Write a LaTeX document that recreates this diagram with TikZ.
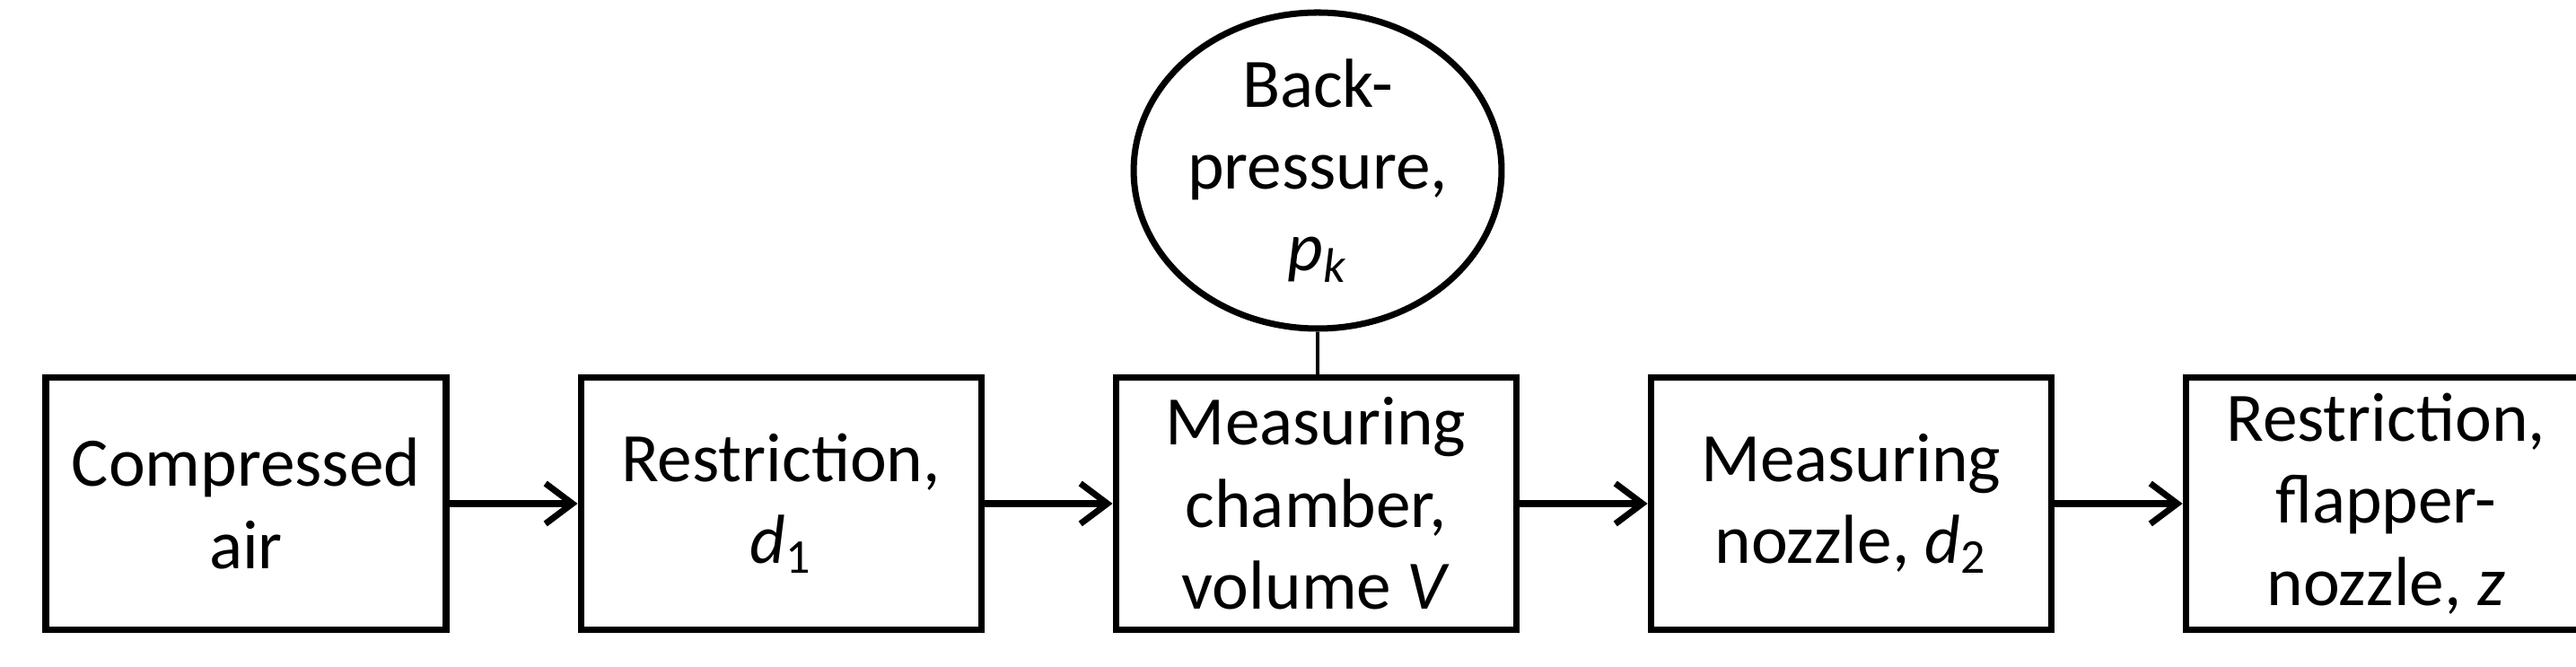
\documentclass[tikz,border=0pt]{standalone}
\usepackage{fontspec}
\setmainfont{Carlito}
\usetikzlibrary{positioning,arrows.meta,shapes.geometric}
\tikzstyle{block}=[draw, line width=2pt, minimum width=4.46cm, minimum height=2.81cm, align=center, font=\fontsize{22}{26}\selectfont]
\tikzstyle{gauge}=[block, ellipse, minimum width=3.59cm, minimum height=3.25cm, inner sep=0pt]
\tikzstyle{flow}=[draw, line width=2pt, -{Straight Barb[length=3mm,width=4.5mm]}]

\begin{document}
\begin{tikzpicture}
\useasboundingbox (0,0) rectangle (28.7,7.42);
\node (air) at (2.74,1.81) [block] {Compressed\\air};
\node (res1) [block, right=1.43cm of air] {Restriction,\\\textit{d}\textsubscript{1}};
\node (chamber) [block, right=1.43cm of res1] {Measuring\\chamber,\\volume \textit{V}};
\node (nozzle) [block, right=1.43cm of chamber] {Measuring\\nozzle, \textit{d}\textsubscript{2}};
\node (res2) [block, right=1.43cm of nozzle] {Restriction,\\flapper-\\nozzle, \textit{z}};
\node (back) at (14.68,5.52) [gauge] {Back-\\pressure,\\\textit{p}\textsubscript{\textit{k}}};

\draw [flow] (air) -- (res1);
\draw [flow] (res1) -- (chamber);
\draw [flow] (chamber) -- (nozzle);
\draw [flow] (nozzle) -- (res2);
\draw [line width=1.2pt] (back.south) -- (back.south |- chamber.north);
\end{tikzpicture}
\end{document}
